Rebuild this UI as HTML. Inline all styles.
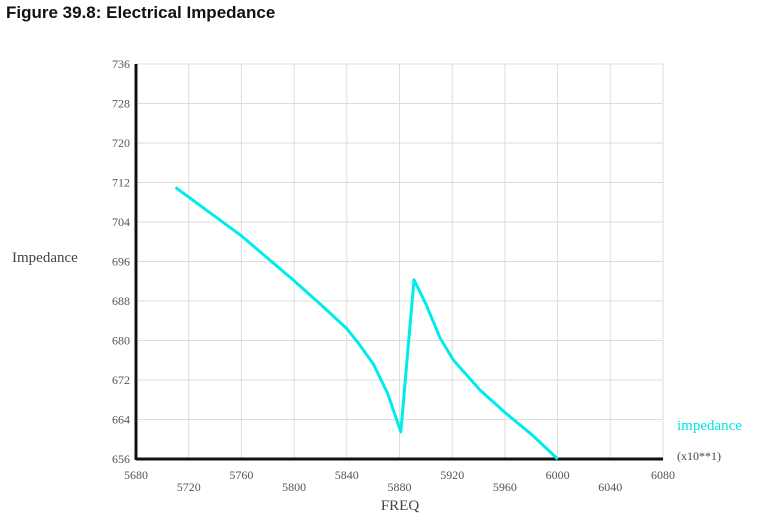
<!DOCTYPE html>
<html><head><meta charset="utf-8"><style>
body{margin:0;background:#fff;width:760px;height:514px;overflow:hidden}
svg text{font-family:"Liberation Serif",serif}
</style></head><body>
<svg width="760" height="514">
<text x="6" y="18" style="font-family:'Liberation Sans',sans-serif;font-weight:bold;font-size:17px" fill="#111">Figure 39.8: Electrical Impedance</text>
<g id="grid"></g>
<g id="axes"></g>
<g id="ticks"></g>
<polyline id="series" fill="none" stroke="#00ecec" stroke-width="3" stroke-linejoin="round"/>
<text x="12" y="262" font-size="15" fill="#444">Impedance</text>
<text x="400" y="510" font-size="15" fill="#444" text-anchor="middle">FREQ</text>
<text x="677" y="430" font-size="15" fill="#00e5e5">impedance</text>
<text x="677" y="460" font-size="12" fill="#444">(x10**1)</text>
</svg>
<script>
const freqs=[5710,5760,5800,5821,5840,5849,5860,5871,5881,5891,5900,5911,5921,5941,5961,5981,6000];
const imps=[711,701.2,692.1,687.1,682.4,679.4,675.3,669.3,661.5,692.3,687.4,680.4,676,670,665.2,660.8,656];
const xTicks=[5680,5720,5760,5800,5840,5880,5920,5960,6000,6040,6080];
const yTicks=[656,664,672,680,688,696,704,712,720,728,736];
const X0=136,X1=663,Y0=459,Y1=64;
const sx=v=>X0+(v-5680)/400*(X1-X0);
const sy=v=>Y0-(v-656)/80*(Y0-Y1);
const NS="http://www.w3.org/2000/svg";
const grid=document.getElementById('grid'),ticks=document.getElementById('ticks'),axes=document.getElementById('axes');
function mk(tag,attrs,parent){const e=document.createElementNS(NS,tag);for(const k in attrs)e.setAttribute(k,attrs[k]);parent.appendChild(e);return e;}
xTicks.forEach((t,i)=>{
 const l=mk('line',{x1:sx(t),x2:sx(t),y1:Y1,y2:Y0,stroke:'#ddd','stroke-width':1},grid);
 
 
 const tx=mk('text',{x:sx(t),y:i%2?491:479,'text-anchor':'middle','font-size':12,fill:'#555'},ticks);
 
 
 tx.textContent=t;
});
yTicks.forEach(t=>{
 const l=mk('line',{x1:X0,x2:X1,y1:sy(t),y2:sy(t),stroke:'#ddd','stroke-width':1},grid);
 
 
 const tx=mk('text',{x:130,y:sy(t)+4,'text-anchor':'end','font-size':12,fill:'#555'},ticks);
 
 
 tx.textContent=t;
});
const ya=mk('line',{x1:X0,x2:X0,y1:Y1,y2:Y0+1,stroke:'#111','stroke-width':3},axes);


const xa=mk('line',{x1:X0,x2:X1,y1:Y0,y2:Y0,stroke:'#111','stroke-width':3},axes);


document.getElementById('series').setAttribute('points',freqs.map((f,i)=>sx(f)+','+sy(imps[i])).join(' '));
</script>
</body></html>
